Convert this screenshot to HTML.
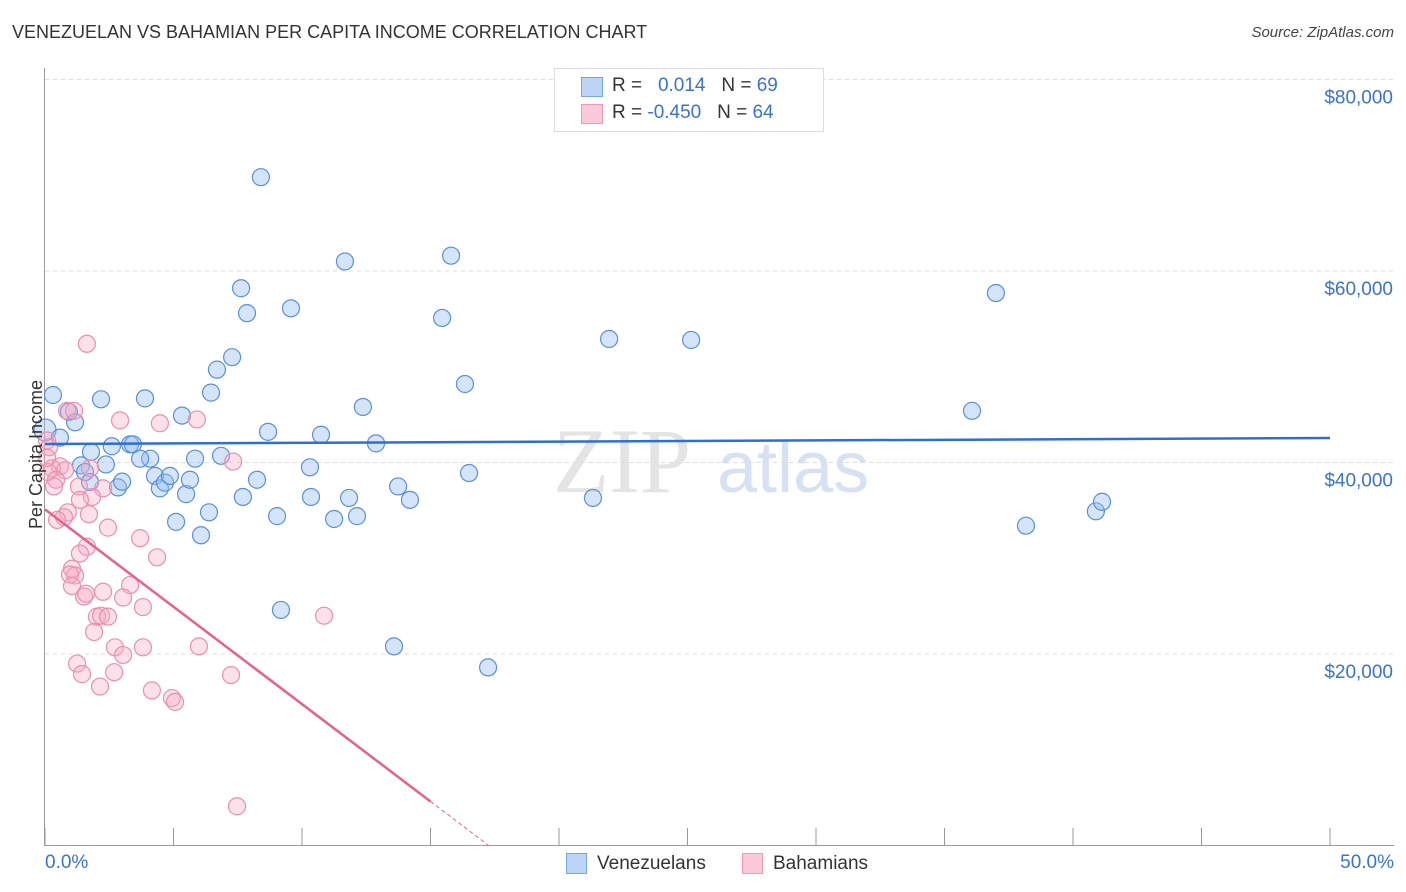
<!DOCTYPE html>
<html><head><meta charset="utf-8"><style>
body{margin:0;background:#fff;font-family:"Liberation Sans",sans-serif;}
#wrap{position:relative;width:1406px;height:892px;overflow:hidden;}
.t{position:absolute;white-space:nowrap;}
</style></head><body>
<div id="wrap">
<div class="t" style="left:12px;top:22px;font-size:18px;color:#333;">VENEZUELAN VS BAHAMIAN PER CAPITA INCOME CORRELATION CHART</div>
<div class="t" style="right:12px;top:24px;font-size:15px;color:#444;font-style:italic;">Source: ZipAtlas.com</div>
<svg id="svg" width="1406" height="892" style="position:absolute;left:0;top:0"></svg>
</div>
<script>
const xTicks=[0,5,10,15,20,25,30,35,40,45,50];
const yTicks=[20000,40000,60000,80000];
const yTickLabels=["$20,000","$40,000","$60,000","$80,000"];
const venX=[0.31,0,0.58,0.93,1.17,2.18,1.79,1.40,1.56,2.37,1.75,2.84,3.0,2.6,3.31,3.42,3.89,4.09,3.70,4.28,4.47,4.67,4.86,5.33,5.1,5.49,5.64,5.84,6.07,6.38,6.46,6.69,6.85,7.28,7.63,7.7,7.86,8.25,8.4,8.68,9.03,9.18,9.57,10.31,10.35,10.74,11.25,11.67,11.83,12.14,12.37,12.88,13.58,13.74,14.2,15.45,15.8,16.34,16.5,17.24,21.32,21.95,25.14,36.07,37.0,38.17,40.89,41.13];
const venY=[47050,43400,42600,45300,44200,46600,41100,39700,39000,39800,37960,37400,38000,41700,41900,41900,46700,40400,40400,38600,37300,37900,38600,44900,33800,36700,38200,40400,32400,34800,47300,49700,40700,51000,58200,36400,55600,38200,69800,43200,34400,24600,56100,39500,36400,42900,34100,61000,36300,34400,45800,42000,20800,37500,36100,55100,61600,48200,38900,18600,36300,52900,52800,45400,57700,33400,34900,35900];
const bahX=[1.63,0.86,1.13,2.92,4.47,5.91,0.08,0.16,0.58,0.27,0.12,0.78,0.43,0.35,1.32,1.75,2.26,1.83,1.36,1.71,0.89,0.74,0.47,2.45,3.70,1.63,1.36,4.36,1.05,1.17,0.97,1.05,3.31,1.52,1.60,2.26,3.04,3.81,2.02,2.18,2.45,10.86,1.91,2.72,3.81,5.99,3.04,1.25,1.44,2.69,7.24,2.14,4.16,4.94,5.06,7.47,7.32,0.08];
const bahY=[52400,45400,45400,44400,44100,44500,42300,41600,39600,39400,39000,39200,38200,37500,37500,39400,37300,36400,36100,34600,34800,34300,34000,33200,32100,31200,30500,30100,28900,28200,28300,27100,27200,26000,26300,26500,25900,24900,23900,24000,23900,24000,22300,20700,20700,20800,19900,19000,17900,18100,17800,16600,16200,15400,15000,4100,40100,40500];
const venTrend=[41930,42560];
const bahTrend=[35100,4600];
const X=p=>45+p*25.7, Y=v=>845.5-v/104.44;
const svg=document.getElementById('svg');
const NS='http://www.w3.org/2000/svg';
function mk(t,a,p){const e=document.createElementNS(NS,t);for(const k in a)e.setAttribute(k,a[k]);(p||svg).appendChild(e);return e;}
// watermark
let w=mk('text',{x:553,y:492,'font-size':92,fill:'#e4e4e4','font-family':'Liberation Serif,serif'});w.textContent='ZIP';


let w2=mk('text',{x:717,y:492,'font-size':72,fill:'#d6e2f3','font-family':'Liberation Sans,sans-serif'});w2.textContent='atlas';


yTicks.forEach((v,i)=>{
 const g=mk('line',{x1:45,x2:1394,y1:Y(v),y2:Y(v),stroke:'#ddd','stroke-dasharray':'4,4'});
 
 
 const t=mk('text',{x:1393,y:Y(v)+24,'text-anchor':'end','font-size':19,fill:'#3b73cc'});t.textContent=yTickLabels[i];
 
 
});
mk('line',{x1:45,x2:1394,y1:Y(80000),y2:Y(80000),stroke:'#ddd','stroke-dasharray':'4,4'});
let ax=mk('line',{x1:44.5,x2:44.5,y1:68,y2:846,stroke:'#999'});


let bx=mk('line',{x1:44,x2:1394,y1:845.5,y2:845.5,stroke:'#999'});


xTicks.forEach(p=>{const l=mk('line',{x1:X(p),x2:X(p),y1:828,y2:846,stroke:'#999'});
 
 });
venX.forEach((p,i)=>{const c=mk('circle',{cx:X(p),cy:Y(venY[i]),r:p===0?11:8.5,fill:'rgba(150,190,240,0.4)',stroke:'#5b8fd9','stroke-width':1.2});
 
 });
bahX.forEach((p,i)=>{const c=mk('circle',{cx:X(p),cy:Y(bahY[i]),r:8.5,fill:'rgba(245,170,195,0.35)',stroke:'#ea8fae','stroke-width':1.2});
 
 });
let tl=mk('line',{x1:X(0),y1:Y(venTrend[0]),x2:X(50),y2:Y(venTrend[1]),stroke:'#2f6fd0','stroke-width':2.5});


const bs=(bahTrend[1]-bahTrend[0])/15, bz=-bahTrend[0]/bs;
let pl=mk('line',{x1:X(0),y1:Y(bahTrend[0]),x2:X(15),y2:Y(bahTrend[1]),stroke:'#e5628e','stroke-width':2.5});


let pd=mk('line',{x1:X(15),y1:Y(bahTrend[1]),x2:X(bz),y2:Y(0),stroke:'#e5628e','stroke-width':1,'stroke-dasharray':'4,3'});


</script>
<div class="t" style="left:-38px;top:444px;font-size:18px;color:#333;transform:rotate(-90deg);">Per Capita Income</div>
<div class="t" style="left:45px;top:852px;font-size:19px;color:#3b73cc;">0.0%</div>
<div class="t" style="right:12px;top:852px;font-size:19px;color:#3b73cc;">50.0%</div>
<div style="position:absolute;left:554px;top:68px;width:268px;height:62px;border:1px solid #ddd;background:#fff;">
 <div style="position:absolute;left:26px;top:8px;width:20px;height:18px;background:#bcd4f5;border:1px solid #7aa6e4;"></div>
 <div class="t" style="left:57px;top:6px;font-size:19px;color:#333;">R = &nbsp;&nbsp;<span style="color:#3b73cc">0.014</span>&nbsp;&nbsp;&nbsp;N = <span style="color:#3b73cc">69</span></div>
 <div style="position:absolute;left:26px;top:35px;width:20px;height:18px;background:#fbcada;border:1px solid #ee9ab5;"></div>
 <div class="t" style="left:57px;top:33px;font-size:19px;color:#333;">R = <span style="color:#3b73cc">-0.450</span>&nbsp;&nbsp;&nbsp;N = <span style="color:#3b73cc">64</span></div>
</div>
<div style="position:absolute;left:566px;top:853px;">
 <div style="position:absolute;left:0;top:0;width:19px;height:19px;background:#bcd4f5;border:1px solid #7aa6e4;"></div>
 <div class="t" style="left:31px;top:0;font-size:19px;color:#333;">Venezuelans</div>
</div>
<div style="position:absolute;left:742px;top:853px;">
 <div style="position:absolute;left:0;top:0;width:19px;height:19px;background:#fbcada;border:1px solid #ee9ab5;"></div>
 <div class="t" style="left:31px;top:0;font-size:19px;color:#333;">Bahamians</div>
</div>
</body></html>
